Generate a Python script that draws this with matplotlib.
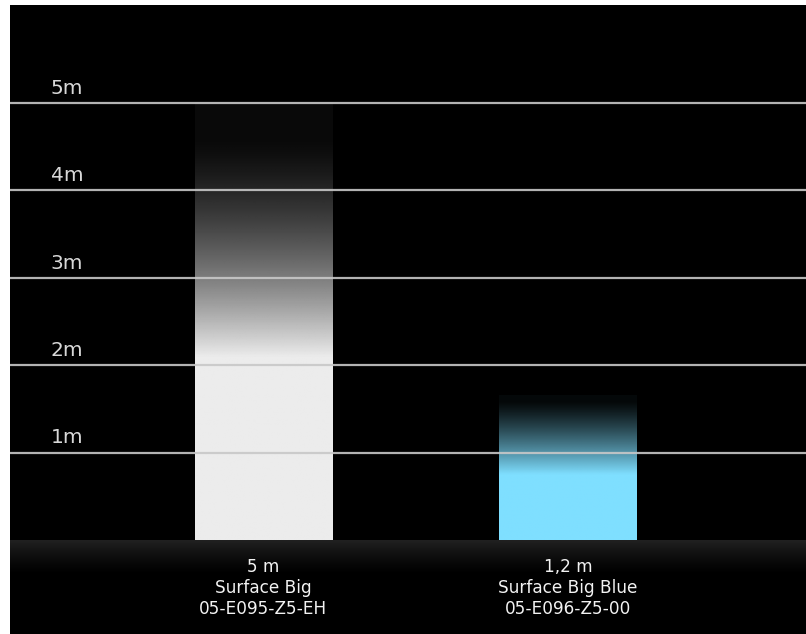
import numpy as np
import matplotlib
matplotlib.use("Agg")
import matplotlib.pyplot as plt

# data
heights = [5.0, 1.2]
values_txt = ["5 m", "1,2 m"]
names = ["Surface Big", "Surface Big Blue"]
codes = ["05-E095-Z5-EH", "05-E096-Z5-00"]
bar_colors = ["#ececec", "#7fdfff"]
grid_levels = [1, 2, 3, 4, 5]
grid_labels = ["1m", "2m", "3m", "4m", "5m"]

fig = plt.figure(figsize=(8.06, 6.34), dpi=100, facecolor="white")
ax = fig.add_axes([10 / 806, 0, 796 / 806, 629 / 634])
ax.set_facecolor("black")
ax.set_xticks([])
ax.set_yticks([])
for s in ax.spines.values():
    s.set_visible(False)

# floor band
floor = np.zeros((64, 2, 4))
t = np.linspace(0, 1, 64)[:, None]
floor[..., :3] = 0.13
floor[..., 3] = (1 - t) ** 1.3
ax.imshow(floor, extent=(-0.83, 1.78, -0.4, 0), aspect="auto",
          interpolation="bilinear", zorder=1)

# gradient bars
width = 0.45
fades = [(2.1, 5.0, 1.7), (0.75, 1.65, 1.3)]  # full-opacity level, top, curve
for i, h in enumerate(heights):
    lo, top, p = fades[i]
    ys = np.linspace(0, top, 400)
    a = np.clip((top - ys) / (top - lo), 0, 1) ** p
    a = np.maximum(a, 0.04)
    rgb = matplotlib.colors.to_rgb(bar_colors[i])
    img = np.zeros((400, 2, 4))
    img[..., :3] = rgb
    img[..., 3] = a[::-1, None]
    ax.imshow(img, extent=(i - width / 2, i + width / 2, 0, top),
              aspect="auto", interpolation="bilinear", zorder=2)

# grid lines and labels
for lv, lab in zip(grid_levels, grid_labels):
    ax.axhline(lv, color="#c8c8c8", lw=1.6, alpha=0.9, zorder=3)
    ax.text(0.051, lv + 0.06, lab, transform=ax.get_yaxis_transform(),
            color="#d8d8d8", fontsize=14.5, ha="left", va="bottom",
            family="DejaVu Sans")

# bottom labels
for i in range(len(heights)):
    ax.text(i, -0.2, "\n".join([values_txt[i], names[i], codes[i]]),
            color="#f2f2f2", fontsize=12.2, ha="center", va="top",
            linespacing=1.22, zorder=4)

ax.set_xlim(-0.83, 1.78)
ax.set_ylim(-1.075, 6.12)
fig.savefig("out.png", dpi=100, facecolor="white")
